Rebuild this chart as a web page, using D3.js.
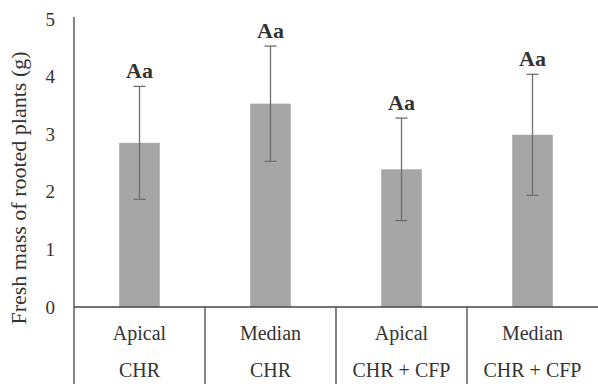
<!DOCTYPE html>
<html>
<head>
<meta charset="utf-8">
<script src="https://cdn.jsdelivr.net/npm/d3@7"></script>
<style>
  body { margin: 0; background: #fff; }
  text { font-family: "Liberation Serif", "Times New Roman", serif; fill: #333; }
</style>
</head>
<body>
<script>
// data
let positions = ['Apical', 'Median', 'Apical', 'Median'];
let treatments = ['CHR', 'CHR', 'CHR + CFP', 'CHR + CFP'];
let means = [2.85, 3.53, 2.39, 2.99];
let errors = [0.98, 1.0, 0.89, 1.05];
let letters = ['Aa', 'Aa', 'Aa', 'Aa'];
let yTicks = [0, 1, 2, 3, 4, 5];

let margin = {top: 19, right: 0, bottom: 81, left: 74};
let width = 598 - (margin.left + margin.right);
let height = 388 - (margin.top + margin.bottom);

let idx = d3.range(means.length);

let xScale = d3.scaleBand()
                .domain(idx)
                .range([0, 524])
                .paddingInner(0)
                .paddingOuter(0);

let yScale = d3.scaleLinear()
                .domain([0, 5])
                .range([height, 0]);

let svg = d3.select('body').append('svg')
                .attr('width', 598)
                .attr('height', 388)
        .append('g')
                .attr('transform', 'translate(' + margin.left + ', ' + margin.top + ')');

// y axis: tick labels only, plus the vertical line
let yAxis = d3.axisLeft(yScale)
        .tickValues(yTicks)
        .tickFormat(d3.format('d'))
        .tickSize(0)
        .tickPadding(19);

let gy = svg.append('g').call(yAxis);
gy.select('.domain').remove();
gy.selectAll('text')
    .style('font-size', '19px')
    .attr('fill', '#333');

svg.append('line')
    .attr('x1', 0).attr('x2', 0)
    .attr('y1', -2).attr('y2', height + 77)
    .attr('stroke', '#444').attr('stroke-width', 1.3);

// bars
let barW = xScale.bandwidth() * 0.31;
svg.selectAll('.bar')
    .data(idx)
  .enter().append('rect')
    .attr('class', 'bar')
    .attr('x', function(i){ return xScale(i) + (xScale.bandwidth() - barW) / 2; })
    .attr('y', function(i){ return yScale(means[i]); })
    .attr('width', barW)
    .attr('height', function(i){ return height - yScale(means[i]); })
    .attr('fill', '#a6a6a6');

// error bars
let eb = svg.selectAll('.err')
    .data(idx)
  .enter().append('g')
    .attr('class', 'err')
    .attr('stroke', '#6f6f6f')
    .attr('stroke-width', 1.3);

eb.append('line')
    .attr('x1', function(i){ return xScale(i) + xScale.bandwidth() / 2; })
    .attr('x2', function(i){ return xScale(i) + xScale.bandwidth() / 2; })
    .attr('y1', function(i){ return yScale(means[i] + errors[i]); })
    .attr('y2', function(i){ return yScale(means[i] - errors[i]); });

[1, -1].forEach(function(s){
  eb.append('line')
      .attr('x1', function(i){ return xScale(i) + xScale.bandwidth() / 2 - 6; })
      .attr('x2', function(i){ return xScale(i) + xScale.bandwidth() / 2 + 6; })
      .attr('y1', function(i){ return yScale(means[i] + s * errors[i]); })
      .attr('y2', function(i){ return yScale(means[i] + s * errors[i]); });
});

// significance letters
svg.selectAll('.letter')
    .data(idx)
  .enter().append('text')
    .attr('class', 'letter')
    .attr('x', function(i){ return xScale(i) + xScale.bandwidth() / 2; })
    .attr('y', function(i){ return yScale(means[i] + errors[i]) - 8; })
    .attr('text-anchor', 'middle')
    .style('font-size', '22px')
    .style('font-weight', 'bold')
    .text(function(i){ return letters[i]; });

// x axis line and category table
svg.append('line')
    .attr('x1', 0).attr('x2', width)
    .attr('y1', height).attr('y2', height)
    .attr('stroke', '#444').attr('stroke-width', 1.3);

svg.selectAll('.divider')
    .data(idx.slice(1))
  .enter().append('line')
    .attr('class', 'divider')
    .attr('x1', function(i){ return xScale(i); })
    .attr('x2', function(i){ return xScale(i); })
    .attr('y1', height)
    .attr('y2', height + 77)
    .attr('stroke', '#444').attr('stroke-width', 1.3);

svg.selectAll('.pos')
    .data(idx)
  .enter().append('text')
    .attr('class', 'pos')
    .attr('x', function(i){ return xScale(i) + xScale.bandwidth() / 2; })
    .attr('y', height + 33)
    .attr('text-anchor', 'middle')
    .style('font-size', '20px')
    .text(function(i){ return positions[i]; });

svg.selectAll('.trt')
    .data(idx)
  .enter().append('text')
    .attr('class', 'trt')
    .attr('x', function(i){ return xScale(i) + xScale.bandwidth() / 2; })
    .attr('y', height + 70)
    .attr('text-anchor', 'middle')
    .style('font-size', '20px')
    .text(function(i){ return treatments[i]; });

// y title
svg.append('text')
    .attr('transform', 'translate(' + (-48) + ', ' + (height / 2 + 25) + ') rotate(-90)')
    .attr('text-anchor', 'middle')
    .style('font-size', '22px')
    .text('Fresh mass of rooted plants (g)');
</script>
</body>
</html>
